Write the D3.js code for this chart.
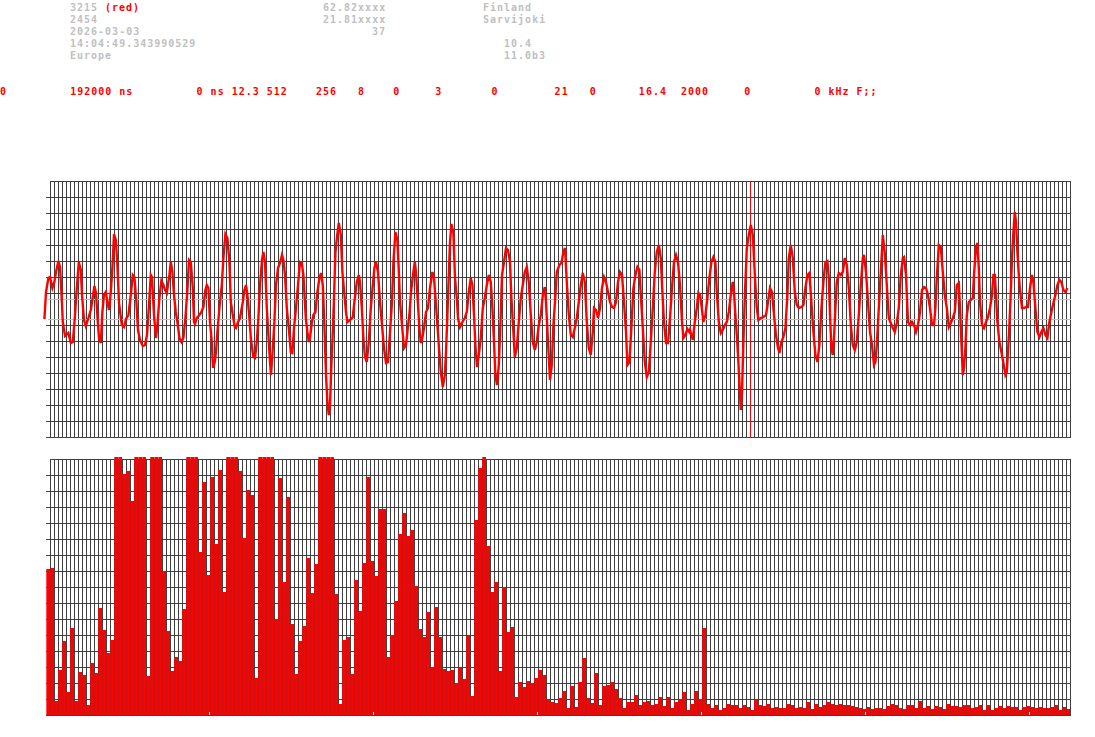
<!DOCTYPE html>
<html><head><meta charset="utf-8">
<script src="https://cdn.jsdelivr.net/npm/d3@7"></script>
<style>html,body{margin:0;padding:0;background:#fff;overflow:hidden}</style>
</head><body><svg id="c" width="1095" height="737"></svg>
<script>
// ---------- header texts ----------
const infoLeft  = ["3215", "2454", "2026-03-03", "14:04:49.343990529", "Europe"];
const infoTag   = "(red)";
const infoMid   = ["62.82xxxx", "21.81xxxx", "37"];
const infoPlace = ["Finland", "Sarvijoki"];
const infoVer   = ["10.4", "11.0b3"];
const paramLine = "0         192000 ns         0 ns 12.3 512    256   8    0     3       0        21   0      16.4  2000     0         0 kHz F;;";

// ---------- waveform: [sample index, amplitude] ----------
const waveform = [
[0.2,-10],[1.0,17],[2.2,31],[3.0,32],[4.2,21],[5.2,27],[6.0,37],[7.2,48],[8.0,42],[8.7,17],[9.4,-13],[10.5,-27],[12.2,-24],[13.4,-34],[14.4,-33],[15.4,-9],[16.4,21],[17.4,47],[18.4,39],[19.0,14],[20.0,-11],[20.9,-17],[22.2,-9],[23.4,-1],[24.4,12],[25.2,23],[26.0,16],[26.9,-13],[27.5,-29],[28.4,-34],[29.2,-3],[30.0,14],[30.9,17],[31.7,7],[32.5,-1],[33.4,17],[34.2,41],[35.0,75],[35.9,69],[36.7,44],[37.5,6],[38.9,-16],[40.0,-18],[41.0,-10],[42.2,-6],[43.4,14],[44.4,34],[45.2,32],[46.2,7],[47.0,-21],[48.0,-31],[49.4,-37],[50.5,-36],[51.5,-26],[52.4,1],[53.4,34],[54.0,32],[55.0,-6],[56.0,-29],[56.7,-16],[57.7,11],[58.7,28],[59.7,24],[60.5,19],[61.4,16],[62.7,34],[63.4,47],[64.2,37],[65.0,14],[65.9,-3],[66.7,-13],[67.7,-29],[68.7,-33],[69.7,-29],[70.7,-9],[71.7,19],[72.5,49],[73.4,47],[74.4,21],[75.0,-13],[75.5,-15],[76.4,-9],[77.7,-6],[78.7,-3],[79.7,2],[80.7,19],[81.4,24],[82.2,21],[83.0,-13],[83.9,-33],[84.5,-59],[85.4,-53],[86.0,-43],[86.7,-23],[87.7,1],[88.9,24],[89.7,51],[90.7,75],[91.7,71],[92.7,47],[93.4,7],[94.4,-6],[95.4,-18],[96.0,-19],[97.0,-13],[98.0,-9],[99.4,7],[100.2,19],[101.0,24],[101.7,14],[102.7,-9],[103.5,-31],[104.7,-48],[105.5,-49],[106.4,-33],[107.2,-9],[108.0,24],[109.0,49],[109.7,57],[110.5,47],[111.4,1],[112.2,-26],[113.0,-53],[113.5,-66],[114.4,-39],[115.2,-13],[116.0,24],[117.0,41],[118.0,46],[119.0,54],[119.7,49],[120.5,34],[121.4,1],[122.4,-19],[123.4,-43],[124.2,-44],[125.0,-19],[126.0,1],[127.0,24],[128.0,47],[128.9,46],[129.7,34],[130.9,-9],[131.7,-23],[132.4,-33],[133.0,-29],[133.9,-14],[134.7,-6],[135.7,-3],[136.7,17],[137.7,31],[138.5,36],[139.4,24],[140.2,-16],[141.0,-66],[141.7,-93],[142.4,-106],[143.0,-96],[143.7,-56],[144.4,-23],[145.0,11],[145.7,56],[146.5,72],[147.4,86],[148.4,74],[149.2,37],[150.0,19],[151.0,-3],[151.7,-13],[153.0,-11],[154.4,-8],[155.2,7],[156.4,27],[157.4,34],[158.0,27],[158.9,1],[159.7,-29],[160.5,-48],[161.4,-53],[162.4,-33],[163.4,1],[164.4,24],[165.2,41],[166.0,47],[167.0,37],[168.0,7],[169.0,-16],[170.0,-39],[171.0,-54],[172.0,-53],[173.0,-23],[174.0,7],[174.7,47],[175.7,77],[176.7,69],[177.5,34],[178.0,7],[179.0,-16],[180.0,-39],[181.0,-36],[181.9,-19],[182.7,-6],[183.5,17],[184.5,34],[185.4,47],[186.0,37],[186.7,14],[187.7,-19],[188.4,-34],[189.0,-31],[190.0,-19],[191.0,-3],[192.0,1],[193.0,21],[194.2,37],[195.0,31],[195.9,7],[196.7,-16],[197.5,-39],[198.4,-63],[199.4,-78],[200.4,-66],[201.0,-43],[201.7,-6],[202.4,34],[203.0,67],[203.7,85],[204.7,76],[205.5,31],[206.4,11],[207.0,-9],[208.0,-18],[209.2,-13],[210.4,-9],[211.4,-3],[212.4,17],[213.4,31],[214.2,24],[215.0,-6],[215.7,-36],[216.5,-58],[217.4,-46],[218.4,-29],[219.4,1],[220.4,11],[221.4,24],[222.4,34],[223.4,27],[224.2,1],[225.0,-33],[225.7,-66],[226.5,-76],[227.4,-56],[228.2,-16],[229.0,34],[230.0,47],[231.0,61],[232.0,59],[233.0,47],[233.7,11],[234.7,-23],[235.4,-48],[236.4,-39],[237.4,-13],[238.4,11],[239.4,24],[240.4,37],[241.4,42],[242.4,27],[243.4,-6],[244.4,-33],[245.4,-41],[246.4,-33],[247.4,-16],[248.4,-6],[249.4,14],[250.4,22],[251.0,7],[252.0,-33],[253.0,-71],[253.9,-56],[254.7,-16],[255.5,7],[256.4,37],[257.7,44],[258.7,46],[259.7,57],[260.5,61],[261.4,27],[262.4,-6],[263.4,-26],[264.4,-28],[265.4,-19],[266.4,-9],[267.4,7],[268.4,24],[269.4,36],[270.4,27],[271.4,-13],[272.4,-39],[273.4,-46],[274.4,-23],[275.0,1],[276.0,-1],[277.0,-9],[278.0,1],[279.0,21],[280.0,32],[281.0,27],[282.0,17],[283.0,7],[284.0,2],[285.0,1],[286.0,7],[287.0,27],[288.0,37],[289.0,34],[290.0,7],[291.0,-23],[291.7,-56],[292.7,-53],[293.7,-19],[294.7,21],[295.7,34],[296.7,42],[297.7,39],[298.4,14],[299.4,-19],[300.4,-53],[301.4,-68],[302.4,-63],[303.4,-33],[304.4,1],[305.4,37],[306.4,57],[307.4,64],[308.4,51],[309.0,24],[310.0,-13],[311.0,-34],[312.0,-34],[313.0,-9],[314.0,21],[315.0,47],[316.0,54],[317.0,47],[318.0,24],[319.0,-13],[319.7,-29],[320.7,-26],[321.7,-20],[322.7,-23],[323.0,-21],[324.4,-31],[325.4,-13],[326.4,1],[327.2,16],[328.0,14],[328.9,1],[329.7,-13],[330.7,-6],[331.7,11],[332.7,31],[333.7,47],[334.7,52],[335.7,47],[336.4,17],[337.4,-13],[338.4,-24],[339.4,-21],[340.4,-16],[341.4,-13],[342.4,-3],[343.4,14],[344.4,27],[345.0,17],[345.7,-6],[346.4,-26],[347.0,-46],[347.7,-73],[348.4,-101],[349.0,-83],[349.7,-33],[350.5,17],[351.4,61],[352.4,74],[353.4,84],[354.4,74],[355.0,51],[355.7,24],[356.4,1],[357.2,-11],[358.4,-9],[359.7,-8],[361.0,-6],[362.0,7],[363.0,21],[364.0,17],[365.0,-6],[366.0,-26],[367.0,-39],[367.7,-44],[368.7,-33],[369.7,-28],[370.7,-19],[371.7,14],[372.4,51],[373.4,64],[374.4,51],[375.4,17],[376.4,4],[377.4,1],[378.7,2],[379.7,4],[380.7,21],[381.7,34],[382.7,36],[383.7,7],[384.7,-23],[385.7,-46],[386.7,-53],[387.7,-36],[388.7,1],[389.7,27],[390.7,47],[391.7,48],[392.4,31],[393.0,-6],[393.7,-39],[394.4,-46],[395.0,-29],[395.7,1],[396.4,27],[397.4,36],[398.4,34],[399.4,37],[400.4,51],[401.4,44],[402.4,21],[403.4,-16],[404.4,-36],[405.4,-41],[406.4,-33],[407.4,-6],[408.4,24],[409.4,51],[410.0,54],[411.0,37],[412.0,7],[413.0,-23],[414.0,-36],[415.0,-56],[415.7,-53],[416.4,-36],[417.4,1],[418.4,37],[419.4,74],[420.4,56],[421.4,24],[422.4,-9],[423.4,-14],[424.4,-19],[425.4,-23],[426.4,-14],[427.4,1],[428.4,34],[429.4,51],[430.0,52],[431.0,34],[432.0,-13],[433.0,-16],[434.0,-13],[435.0,-16],[436.0,-23],[437.0,-16],[438.0,-3],[439.0,19],[440.0,22],[441.0,21],[442.0,14],[443.0,1],[444.0,-16],[445.0,-16],[445.7,1],[446.4,31],[447.4,64],[448.4,62],[449.4,37],[450.4,14],[451.4,1],[452.4,-18],[453.4,-14],[454.4,-9],[455.4,-3],[456.4,24],[457.4,26],[458.0,1],[458.7,-33],[459.4,-66],[460.0,-59],[460.7,-39],[461.4,-6],[462.4,7],[463.4,9],[464.4,11],[465.0,34],[466.0,62],[466.7,66],[467.4,41],[468.0,7],[469.0,-16],[470.0,-19],[471.0,-13],[472.0,-8],[473.0,1],[474.0,14],[474.7,34],[475.4,34],[476.0,14],[476.7,-13],[477.7,-33],[478.7,-43],[479.7,-54],[480.7,-66],[481.4,-63],[482.0,-43],[482.7,-16],[483.4,17],[484.0,51],[484.7,77],[485.4,97],[486.0,87],[486.7,57],[487.4,34],[488.0,19],[489.0,1],[490.0,1],[491.0,2],[492.0,2],[493.0,21],[494.0,34],[494.7,27],[495.7,1],[496.7,-23],[497.7,-28],[498.7,-23],[499.7,-19],[500.7,-26],[501.7,-29],[502.7,-13],[503.7,-3],[504.7,6],[505.7,14],[506.7,24],[507.7,29],[508.7,27],[509.7,19],[510.7,17],[511.7,21]
];
const markerSample = 353;       // red cursor in the waveform panel
const refLevels = [10, -10];    // light grey reference levels

// ---------- spectrum: 256 bins ----------
const spectrum = [
146,147,14,45,74,23,87,14,43,40,
10,52,42,107,85,62,75,258,258,241,
244,214,258,258,258,39,258,258,258,144,
84,44,58,54,106,258,258,258,163,233,
140,238,171,245,123,258,258,258,244,177,
225,220,37,258,258,258,258,96,237,133,
218,91,41,74,89,157,122,151,258,258,
258,258,121,11,75,78,41,135,104,152,
238,154,139,206,206,58,80,114,181,202,
179,185,129,86,78,103,48,108,78,46,
44,45,32,47,36,79,19,195,247,258,
169,123,133,44,128,83,88,18,33,28,
34,32,37,45,40,16,13,12,17,24,
7,29,8,33,57,17,12,42,10,29,
30,33,26,17,7,13,13,20,10,13,
14,10,11,18,9,18,7,13,16,23,
5,11,24,16,87,11,7,10,5,7,
11,10,10,7,10,8,5,16,10,9,
11,7,8,7,7,11,10,7,8,7,
13,6,11,8,10,13,11,10,11,10,
10,9,8,7,6,8,6,7,7,6,
9,11,10,7,6,10,10,7,14,7,
9,6,9,8,6,11,9,9,8,10,
10,7,8,10,5,10,5,7,9,7,
9,8,8,5,8,9,8,7,8,7,
7,8,10,5,8,6
];
const freqMarkers = [40.8, 81.8, 122.8, 163.8, 204.8, 245.8];

// ---------- drawing ----------
const svg = d3.select("#c");
svg.append("rect").attr("width",1095).attr("height",737).attr("fill","#fff");

const GRID = "#404040", GREY = "#c0c0c0", RED = "#ff0000";
const FONT = "'DejaVu Sans Mono', monospace";

const xWave = d3.scaleLinear().domain([0,512]).range([44,1068]);
const yWave = d3.scaleLinear().domain([-128,128]).range([437,181]);
const xBin  = d3.scaleLinear().domain([0,256]).range([46,1070]);
const yBar  = d3.scaleLinear().domain([0,256]).range([715,459]);

// header text
const tg = svg.append("g").attr("font-family",FONT).attr("font-size","10px")
  .style("letter-spacing","1px");
const rowY = [11,23,35,47,59];
tg.selectAll("text.l").data(infoLeft).join("text").attr("class","l")
  .attr("x",70).attr("y",(d,i)=>rowY[i]).attr("fill",GREY).attr("font-weight","600").text(d=>d);
tg.append("text").attr("x",105).attr("y",rowY[0]).attr("fill",RED)
  .attr("font-weight","bold").text(infoTag);
tg.selectAll("text.m").data(infoMid).join("text").attr("class","m")
  .attr("x",(d)=>386 - d.length*7).attr("y",(d,i)=>rowY[i]).attr("fill",GREY).attr("font-weight","600").text(d=>d);
tg.selectAll("text.p").data(infoPlace).join("text").attr("class","p")
  .attr("x",483).attr("y",(d,i)=>rowY[i]).attr("fill",GREY).attr("font-weight","600").text(d=>d);
tg.selectAll("text.v").data(infoVer).join("text").attr("class","v")
  .attr("x",504).attr("y",(d,i)=>rowY[i+3]).attr("fill",GREY).attr("font-weight","600").text(d=>d);
tg.append("text").attr("x",0).attr("y",95).attr("fill",RED).attr("font-weight","bold")
  .style("white-space","pre").text(paramLine);

// grid helper
function grid(g, yScale, yDomainVals, centerVal){
  const top = yScale(yDomainVals[yDomainVals.length-1]), bot = yScale(yDomainVals[0]);
  g.selectAll("line.h").data(yDomainVals).join("line").attr("class","h")
    .attr("x1",(d,i)=> i===yDomainVals.length-1 ? xBin(1) : xBin(0))
    .attr("x2",xBin(256)+1)
    .attr("y1",d=>Math.round(yScale(d))+0.5).attr("y2",d=>Math.round(yScale(d))+0.5)
    .attr("stroke",d=> d===centerVal ? "#fff" : GRID).attr("stroke-width",1)
    .attr("shape-rendering","crispEdges");
  g.selectAll("line.v").data(d3.range(1,257)).join("line").attr("class","v")
    .attr("x1",d=>xBin(d)+0.5).attr("x2",d=>xBin(d)+0.5)
    .attr("y1",top).attr("y2",bot+1)
    .attr("stroke",GRID).attr("stroke-width",1).attr("shape-rendering","crispEdges");
}

// waveform panel
const gW = svg.append("g");
grid(gW, yWave, d3.range(-128,129,16), 0);
gW.selectAll("line.ref").data(refLevels).join("line").attr("class","ref")
  .attr("x1",48).attr("x2",xBin(256)+1)
  .attr("y1",d=>yWave(d)+0.5).attr("y2",d=>yWave(d)+0.5)
  .attr("stroke",GREY).attr("shape-rendering","crispEdges");
gW.append("line").attr("x1",Math.round(xWave(markerSample))+0.5).attr("x2",Math.round(xWave(markerSample))+0.5)
  .attr("y1",yWave(128)).attr("y2",yWave(-128)+1).attr("stroke",RED).attr("shape-rendering","crispEdges");
gW.append("path").datum(waveform)
  .attr("d",d3.line().x(d=>xWave(d[0])).y(d=>yWave(d[1])))
  .attr("fill","none").attr("stroke",RED).attr("stroke-width",2.4)
  .attr("stroke-linejoin","miter");

// spectrum panel
const gS = svg.append("g");
grid(gS, yBar, d3.range(0,257,16), null);
const barW = (xBin(1)-xBin(0)) * 0.925;
gS.selectAll("rect.bar").data(spectrum).join("rect").attr("class","bar")
  .attr("x",(d,i)=>xBin(i+1)-barW).attr("width",barW)
  .attr("y",d=>Math.round(yBar(d))).attr("height",d=>Math.round(yBar(0))-Math.round(yBar(d)))
  .attr("fill",RED);
gS.selectAll("rect.fm").data(freqMarkers).join("rect").attr("class","fm")
  .attr("x",d=>Math.round(xBin(d))).attr("width",1)
  .attr("y",yBar(0)-3).attr("height",3).attr("fill","#fff").attr("shape-rendering","crispEdges");
</script></body></html>
